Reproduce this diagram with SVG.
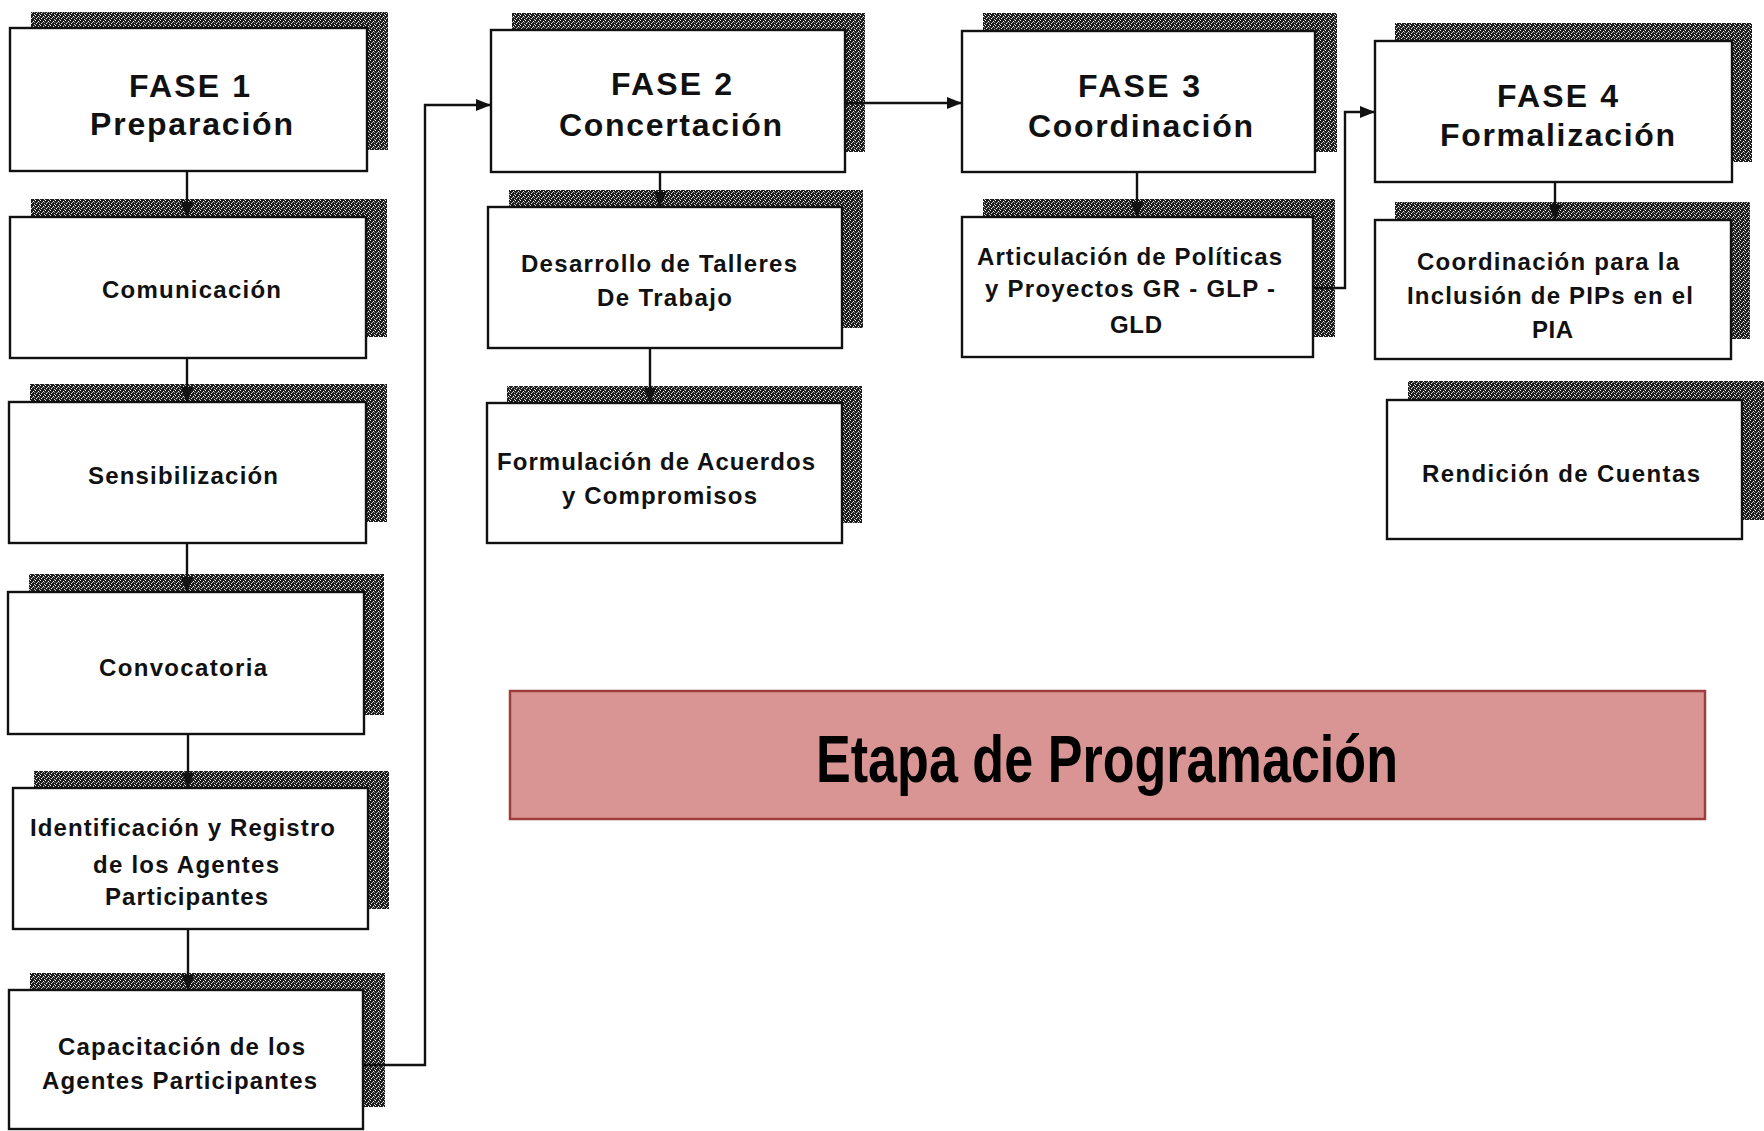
<svg xmlns="http://www.w3.org/2000/svg" width="1764" height="1131" viewBox="0 0 1764 1131">
<style>
.box{fill:#ffffff;stroke:#111;stroke-width:2.4}
.sh{fill:url(#ht);stroke:none}
.big{font-family:"Liberation Sans",Arial,sans-serif;font-weight:bold;font-size:32px;fill:#111;text-anchor:middle}
.sm{font-family:"Liberation Sans",Arial,sans-serif;font-weight:bold;font-size:24px;fill:#111;text-anchor:middle}
.con{fill:none;stroke:#111;stroke-width:2.4}
.etapa{font-family:"Liberation Sans",Arial,sans-serif;font-weight:bold;font-size:66px;fill:#000;text-anchor:middle}
</style>
<defs>
<pattern id="ht" width="5" height="5" patternUnits="userSpaceOnUse">
<rect width="5" height="5" fill="#1e1e1e"/>
<rect x="0" y="0" width="1" height="1" fill="#fff"/>
<rect x="3" y="1" width="1" height="1" fill="#fff"/>
<rect x="1" y="3" width="1" height="1" fill="#eee"/>
<rect x="4" y="4" width="1" height="1" fill="#ccc"/>
<rect x="2" y="2" width="1" height="1" fill="#aaa"/>
<rect x="4" y="2" width="1" height="1" fill="#888"/>
</pattern>
<marker id="ar" markerWidth="16" markerHeight="14" refX="15" refY="7" orient="auto" markerUnits="userSpaceOnUse">
<path d="M0,1 L15,7 L0,13 Z" fill="#111"/>
</marker>
</defs>

<g id="fase1">
<rect class="sh" x="31" y="12" width="357" height="138"/>
<rect class="box" x="10" y="28" width="357" height="143"/>
<text class="big" x="189.5" y="97" textLength="121">FASE 1</text>
<text class="big" x="191.5" y="135" textLength="203">Preparación</text>
</g>
<g id="comunicacion">
<rect class="sh" x="31" y="199" width="356" height="138"/>
<rect class="box" x="10" y="217" width="356" height="141"/>
<text class="sm" x="191.5" y="298" textLength="179">Comunicación</text>
</g>
<g id="sensibilizacion">
<rect class="sh" x="30" y="384" width="357" height="138"/>
<rect class="box" x="9" y="402" width="357" height="141"/>
<text class="sm" x="183" y="484" textLength="190">Sensibilización</text>
</g>
<g id="convocatoria">
<rect class="sh" x="29" y="574" width="355" height="141"/>
<rect class="box" x="8" y="592" width="356" height="142"/>
<text class="sm" x="183" y="676" textLength="168">Convocatoria</text>
</g>
<g id="identificacion">
<rect class="sh" x="34" y="771" width="355" height="138"/>
<rect class="box" x="13" y="788" width="355" height="141"/>
<text class="sm" x="182.5" y="836" textLength="305">Identificación y Registro</text>
<text class="sm" x="186" y="873" textLength="186">de los Agentes</text>
<text class="sm" x="186.5" y="905" textLength="163">Participantes</text>
</g>
<g id="capacitacion">
<rect class="sh" x="30" y="973" width="355" height="134"/>
<rect class="box" x="9" y="990" width="354" height="139"/>
<text class="sm" x="181.5" y="1055" textLength="247">Capacitación de los</text>
<text class="sm" x="179.5" y="1089" textLength="275">Agentes Participantes</text>
</g>

<g id="fase2">
<rect class="sh" x="512" y="13" width="353" height="139"/>
<rect class="box" x="491" y="30" width="354" height="142"/>
<text class="big" x="671.5" y="95" textLength="121">FASE 2</text>
<text class="big" x="670.5" y="136" textLength="223">Concertación</text>
</g>
<g id="desarrollo">
<rect class="sh" x="509" y="190" width="354" height="138"/>
<rect class="box" x="488" y="207" width="354" height="141"/>
<text class="sm" x="659" y="272" textLength="276">Desarrollo de Talleres</text>
<text class="sm" x="664.5" y="306" textLength="135">De Trabajo</text>
</g>
<g id="formulacion">
<rect class="sh" x="507" y="386" width="355" height="137"/>
<rect class="box" x="487" y="403" width="355" height="140"/>
<text class="sm" x="656" y="470" textLength="318">Formulación de Acuerdos</text>
<text class="sm" x="659.5" y="504" textLength="195">y Compromisos</text>
</g>

<g id="fase3">
<rect class="sh" x="983" y="13" width="354" height="139"/>
<rect class="box" x="962" y="31" width="353" height="141"/>
<text class="big" x="1139" y="97" textLength="122">FASE 3</text>
<text class="big" x="1140.5" y="137" textLength="225">Coordinación</text>
</g>
<g id="articulacion">
<rect class="sh" x="983" y="199" width="352" height="138"/>
<rect class="box" x="962" y="217" width="351" height="140"/>
<text class="sm" x="1129.5" y="265" textLength="305">Articulación de Políticas</text>
<text class="sm" x="1130" y="297" textLength="290">y Proyectos GR - GLP -</text>
<text class="sm" x="1136" y="333" textLength="52">GLD</text>
</g>

<g id="fase4">
<rect class="sh" x="1395" y="23" width="357" height="139"/>
<rect class="box" x="1375" y="41" width="357" height="141"/>
<text class="big" x="1557.5" y="107" textLength="121">FASE 4</text>
<text class="big" x="1557.5" y="146" textLength="235">Formalización</text>
</g>
<g id="coordinacion">
<rect class="sh" x="1395" y="202" width="355" height="137"/>
<rect class="box" x="1375" y="220" width="356" height="139"/>
<text class="sm" x="1548" y="270" textLength="262">Coordinación para la</text>
<text class="sm" x="1550" y="304" textLength="286">Inclusión de PIPs en el</text>
<text class="sm" x="1552.5" y="338" textLength="41">PIA</text>
</g>
<g id="rendicion">
<rect class="sh" x="1408" y="381" width="356" height="139"/>
<rect class="box" x="1387" y="400" width="355" height="139"/>
<text class="sm" x="1561" y="482" textLength="278">Rendición de Cuentas</text>
</g>

<g id="etapa">
<rect x="510" y="691" width="1195" height="128" fill="#d99594" stroke="#a03c3c" stroke-width="2.5"/>
<text class="etapa" x="1107" y="782" textLength="582" lengthAdjust="spacingAndGlyphs">Etapa de Programación</text>
</g>

<g id="connectors">
<path class="con" d="M187,172 V217" marker-end="url(#ar)"/>
<path class="con" d="M187,359 V402" marker-end="url(#ar)"/>
<path class="con" d="M187,544 V592" marker-end="url(#ar)"/>
<path class="con" d="M188,735 V788" marker-end="url(#ar)"/>
<path class="con" d="M188,930 V990" marker-end="url(#ar)"/>
<path class="con" d="M364,1065 H425 V105 H491" marker-end="url(#ar)"/>
<path class="con" d="M660,173 V207" marker-end="url(#ar)"/>
<path class="con" d="M650,349 V403" marker-end="url(#ar)"/>
<path class="con" d="M846,103 H962" marker-end="url(#ar)"/>
<path class="con" d="M1137,173 V217" marker-end="url(#ar)"/>
<path class="con" d="M1314,288 H1345 V112 H1375" marker-end="url(#ar)"/>
<path class="con" d="M1555,183 V220" marker-end="url(#ar)"/>
</g>
</svg>
